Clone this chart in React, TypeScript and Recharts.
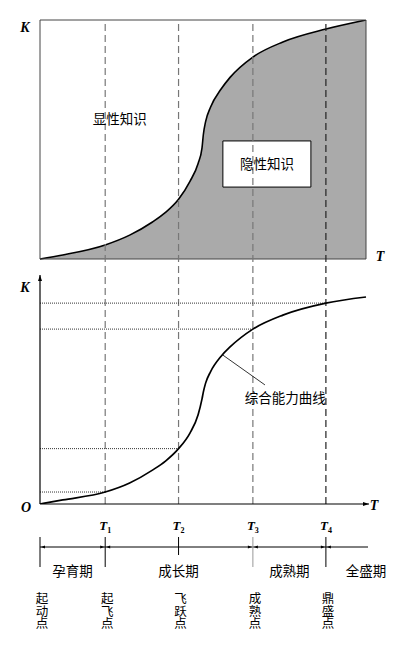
import React from 'react';
import {
  ComposedChart,
  Area,
  Line,
  XAxis,
  YAxis,
  ReferenceLine,
  ReferenceArea,
  ReferenceDot,
} from 'recharts';

// time axis (0 = start, 100 = end of the observed period)
const timeX = [0, 7, 20, 27.5, 34.5, 38.5, 42.5, 46, 48.5, 49.7, 50.1, 50.8, 52.3, 55.5, 58.3, 65.3, 74.5, 87.7, 100];
// upper panel: knowledge curve (share of tacit knowledge, 0-100)
const knowledgeK = [0, 1.7, 5.9, 10, 15.5, 19.5, 25, 32.5, 40, 46.5, 52, 57.5, 63.5, 71, 76, 84.5, 90.8, 96.2, 100];
// lower panel: overall ability curve
const abilityK = [0, 1.8, 5.3, 9.3, 15, 19, 24.5, 31.4, 39.5, 46.5, 49.5, 53.5, 58.5, 65.3, 69.5, 77.4, 83.6, 88.9, 91.6];

const stageT = [20, 42.5, 65.3, 87.7];
const phaseNames = ['孕育期', '成长期', '成熟期', '全盛期'];
const phaseLabelX = [10, 42.5, 76.5, 100];
const pointNames = ['起动点', '起飞点', '飞跃点', '成熟点', '鼎盛点'];

const rows = timeX.map((t, i) => ({ t, know: knowledgeK[i], ability: abilityK[i] }));
const abilityAt = (t: number) => abilityK[timeX.indexOf(t)];

const CJK = '"Noto Sans CJK SC", "Noto Sans", sans-serif';
const LATIN = '"Liberation Serif", "DejaVu Serif", serif';

const Letter = ({ x, y, children }: any) => (
  <text x={x} y={y} textAnchor="middle" dominantBaseline="central" fontFamily={LATIN}
    fontWeight="bold" fontStyle="italic" fontSize={14} fill="#000">
    {children}
  </text>
);

const ArrowLine = (p: any) => {
  const { x1, y1, x2, y2 } = p;
  const len = Math.hypot(x2 - x1, y2 - y1) || 1;
  const ux = (x2 - x1) / len;
  const uy = (y2 - y1) / len;
  const tx = x2 + ux * 3;
  const ty = y2 + uy * 3;
  const bx = tx - ux * 6;
  const by = ty - uy * 6;
  return (
    <g>
      <line x1={x1} y1={y1} x2={tx} y2={ty} stroke="#000" strokeWidth={1.2} />
      <polygon points={`${tx},${ty} ${bx - uy * 2},${by + ux * 2} ${bx + uy * 2},${by - ux * 2}`} fill="#000" />
    </g>
  );
};

const DimLine = (p: any) => {
  const { x1, y1, x2, endArrow } = p;
  return (
    <g>
      <line x1={x1} y1={y1} x2={x2 + (endArrow ? 0 : 2)} y2={y1} stroke="#000" strokeWidth={1} />
      <polygon points={`${x1 + 1},${y1} ${x1 + 5},${y1 - 1.5} ${x1 + 5},${y1 + 1.5}`} fill="#000" />
      {endArrow && (
        <polygon points={`${x2 - 1},${y1} ${x2 - 5},${y1 - 1.5} ${x2 - 5},${y1 + 1.5}`} fill="#000" />
      )}
    </g>
  );
};

const StageTick = (props: any) => {
  const { x, y, index } = props;
  return (
    <text x={x} y={y + 26} textAnchor="middle" fontFamily={LATIN} fontWeight="bold"
      fontStyle="italic" fontSize={13} fill="#000">
      T<tspan fontSize={8} dy={3} fontStyle="normal">{index + 1}</tspan>
    </text>
  );
};

const CjkText = ({ x, y, text }: any) => (
  <text x={x} y={y} textAnchor="middle" dominantBaseline="central" fontFamily={CJK}
    fontSize={13.5} fill="#000">
    {text}
  </text>
);

const VerticalText = ({ x, y, text }: any) => (
  <text x={x} y={y} writingMode="tb" textAnchor="start" fontFamily={CJK} fontSize={12.5}
    fill="#000" style={{ writingMode: 'vertical-rl', textOrientation: 'upright' } as any}>
    {text}
  </text>
);

export default function App() {
  const phaseBounds = [0, stageT[0], stageT[2], stageT[3], 100];
  const pointX = [0, ...stageT];

  return (
    <div style={{ position: 'absolute', left: 0, top: 0, width: 397, height: 654, background: '#fff' }}>
      <ComposedChart width={397} height={534} data={rows} margin={{ top: 20, right: 31, bottom: 0, left: 40 }}>
        <XAxis dataKey="t" type="number" domain={[0, 100]} ticks={stageT} interval={0} height={30}
          axisLine={false} tickLine={false} tickSize={0} tickMargin={0} tick={<StageTick />} />
        <YAxis yAxisId="top" type="number" domain={[-102.5, 100]} hide allowDataOverflow />
        <YAxis yAxisId="bot" type="number" domain={[0, 214.2]} hide allowDataOverflow />

        <Area yAxisId="top" dataKey="know" type="monotone" baseValue={0} fill="#aaaaaa" fillOpacity={1}
          stroke="#000" strokeWidth={1.6} isAnimationActive={false} />
        <ReferenceArea yAxisId="top" x1={0} x2={100} y1={0} y2={100} fill="none" fillOpacity={0}
          stroke="#444" strokeWidth={1} />

        {stageT.map((t, i) => (
          <ReferenceLine key={`d${i}`} yAxisId="bot" x={t} stroke={i === 3 ? '#222' : '#777'}
            strokeWidth={1.2} strokeDasharray="7 4" />
        ))}

        <ReferenceArea yAxisId="top" x1={56.1} x2={83.1} y1={30.1} y2={49.4} fill="#fff" fillOpacity={1}
          stroke="#000" strokeWidth={1}
          label={{ value: '隐性知识', position: 'center', fontFamily: CJK, fontSize: 13.5, fill: '#000' }} />
        <ReferenceDot yAxisId="top" x={24.5} y={59} r={0}
          shape={(p: any) => <CjkText x={p.cx} y={p.cy} text="显性知识" />} />

        {stageT.map((t, i) => (
          <ReferenceLine key={`h${i}`} yAxisId="bot" segment={[{ x: 0, y: abilityAt(t) }, { x: t, y: abilityAt(t) }]}
            stroke="#333" strokeWidth={1} strokeDasharray="1 1" />
        ))}

        <Line yAxisId="bot" dataKey="ability" type="monotone" stroke="#000" strokeWidth={1.7} dot={false}
          isAnimationActive={false} />

        <ReferenceLine yAxisId="bot" segment={[{ x: 0, y: 0 }, { x: 100, y: 0 }]} shape={<ArrowLine />} />
        <ReferenceLine yAxisId="bot" segment={[{ x: 0, y: 0 }, { x: 0, y: 100 }]} shape={<ArrowLine />} />

        <ReferenceLine yAxisId="bot" segment={[{ x: 56.1, y: 65.9 }, { x: 69, y: 52.7 }]} stroke="#000"
          strokeWidth={0.8} />
        <ReferenceDot yAxisId="bot" x={75.2} y={47.3} r={0}
          shape={(p: any) => <CjkText x={p.cx} y={p.cy} text="综合能力曲线" />} />

        <ReferenceDot yAxisId="top" x={0} y={100} r={0} ifOverflow="visible"
          shape={(p: any) => <Letter x={p.cx - 15} y={p.cy + 7}>K</Letter>} />
        <ReferenceDot yAxisId="top" x={100} y={0} r={0} ifOverflow="visible"
          shape={(p: any) => <Letter x={p.cx + 14} y={p.cy - 3}>T</Letter>} />
        <ReferenceDot yAxisId="bot" x={0} y={100} r={0} ifOverflow="visible"
          shape={(p: any) => <Letter x={p.cx - 15} y={p.cy + 9}>K</Letter>} />
        <ReferenceDot yAxisId="bot" x={0} y={0} r={0} ifOverflow="visible"
          shape={(p: any) => <Letter x={p.cx - 14} y={p.cy + 3}>O</Letter>} />
        <ReferenceDot yAxisId="bot" x={100} y={0} r={0} ifOverflow="visible"
          shape={(p: any) => <Letter x={p.cx + 8} y={p.cy + 1}>T</Letter>} />
      </ComposedChart>

      <ComposedChart width={397} height={120} data={rows} margin={{ top: 0, right: 31, bottom: 0, left: 40 }}>
        <XAxis dataKey="t" type="number" domain={[0, 100]} hide />
        <YAxis yAxisId="row" type="number" domain={[0, 120]} reversed hide allowDataOverflow />

        {phaseNames.map((_, i) => (
          <ReferenceLine key={`p${i}`} yAxisId="row" ifOverflow="visible"
            segment={[{ x: phaseBounds[i], y: 13 }, { x: phaseBounds[i + 1], y: 13 }]}
            shape={(p: any) => <DimLine {...p} endArrow={i < 3} />} />
        ))}
        {pointX.map((t, i) => (
          <ReferenceLine key={`k${i}`} yAxisId="row" ifOverflow="visible"
            segment={[{ x: t, y: 3 }, { x: t, y: i === 2 ? 21 : 33 }]}
            stroke={i === 3 ? '#999' : '#000'} strokeWidth={1} />
        ))}
        {phaseNames.map((name, i) => (
          <ReferenceDot key={`n${i}`} yAxisId="row" x={phaseLabelX[i]} y={36} r={0} ifOverflow="visible"
            shape={(p: any) => <CjkText x={p.cx} y={p.cy} text={name} />} />
        ))}
        {pointNames.map((name, i) => (
          <ReferenceDot key={`v${i}`} yAxisId="row" x={pointX[i]} y={58} r={0} ifOverflow="visible"
            shape={(p: any) => <VerticalText x={p.cx + 2} y={p.cy} text={name} />} />
        ))}
      </ComposedChart>
    </div>
  );
}
